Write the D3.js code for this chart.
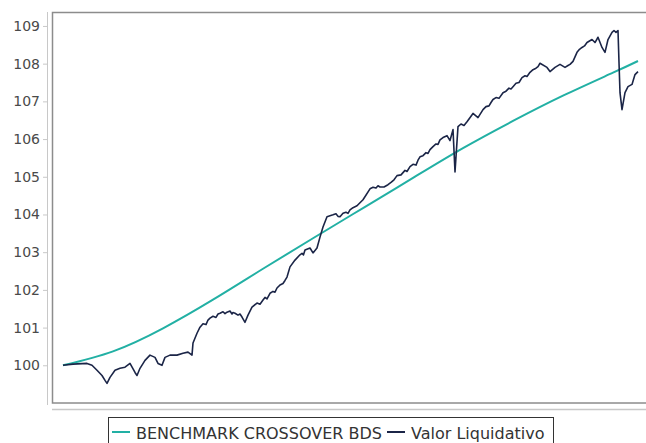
<!DOCTYPE html>
<html>
<head>
<meta charset="utf-8">
<script src="https://cdn.jsdelivr.net/npm/d3@7"></script>
<style>
  body { margin: 0; background: #fff; }
  svg { display: block; font-family: "DejaVu Sans", sans-serif; }
</style>
</head>
<body>
<div id="chart"></div>
<script>
var navDays = [0, 20, 48, 58, 68, 78, 84, 88, 94, 104, 114, 124, 134, 144, 148, 154, 164, 174, 184, 190,
  198, 204, 214, 228, 240, 250, 258, 260, 268, 274, 280, 286, 290, 294, 300, 306, 310, 314, 320, 324,
  328, 334, 338, 340, 344, 350, 354, 358, 364, 370, 378, 388, 394, 400, 404, 408, 414, 420, 424, 428,
  434, 440, 444, 448, 454, 464, 474, 478, 481, 484, 494, 500, 508, 514, 520, 528, 540, 546, 550, 554,
  560, 566, 570, 574, 580, 588, 600, 614, 620, 626, 630, 634, 642, 650, 656, 662, 668, 676, 684, 688,
  694, 700, 706, 710, 714, 720, 726, 730, 734, 740, 746, 750, 754, 760, 768, 774, 780, 784, 790, 796,
  802, 808, 820, 830, 840, 846, 852, 856, 860, 866, 872, 880, 886, 892, 896, 900, 906, 912, 918, 924,
  928, 934, 940, 946, 950, 954, 968, 974, 984, 994, 1004, 1010, 1014, 1020, 1028, 1033, 1038, 1043, 1048, 1058,
  1064, 1070, 1078, 1084, 1090, 1098, 1102, 1106, 1110, 1112, 1114, 1118, 1124, 1130, 1138, 1144, 1150];
var navValues = [100.00, 100.03, 100.05, 100.00, 99.87, 99.73, 99.60, 99.52, 99.68, 99.87, 99.92, 99.95, 100.05, 99.81, 99.73, 99.92, 100.13, 100.27, 100.21, 100.05,
  100.00, 100.21, 100.27, 100.27, 100.32, 100.35, 100.27, 100.59, 100.85, 101.01, 101.10, 101.08, 101.20, 101.25, 101.30, 101.27, 101.36, 101.38, 101.42, 101.37,
  101.41, 101.44, 101.36, 101.40, 101.38, 101.33, 101.36, 101.28, 101.14, 101.33, 101.54, 101.65, 101.62, 101.73, 101.80, 101.76, 101.91, 101.96, 101.94, 102.05,
  102.13, 102.17, 102.25, 102.34, 102.61, 102.79, 102.93, 102.97, 102.93, 103.06, 103.11, 102.98, 103.11, 103.40, 103.67, 103.94, 103.99, 104.02, 103.95, 103.94,
  104.03, 104.06, 104.03, 104.12, 104.18, 104.23, 104.39, 104.68, 104.72, 104.70, 104.76, 104.73, 104.73, 104.79, 104.85, 104.92, 105.03, 105.05, 105.17, 105.14,
  105.27, 105.33, 105.31, 105.44, 105.53, 105.56, 105.64, 105.62, 105.72, 105.80, 105.87, 105.86, 105.98, 106.04, 106.09, 105.96, 106.25, 105.13, 106.33, 106.40,
  106.36, 106.46, 106.68, 106.57, 106.78, 106.86, 106.88, 106.97, 107.05, 107.10, 107.08, 107.23, 107.27, 107.35, 107.33, 107.39, 107.48, 107.50, 107.63, 107.68,
  107.66, 107.77, 107.84, 107.88, 107.92, 108.01, 107.90, 107.79, 107.90, 107.98, 107.90, 107.95, 107.98, 108.06, 108.30, 108.38, 108.43, 108.47, 108.56, 108.64,
  108.56, 108.70, 108.43, 108.30, 108.64, 108.83, 108.88, 108.83, 108.88, 108.03, 107.23, 106.78, 107.23, 107.39, 107.45, 107.71, 107.79];

var benchDays = [0, 100, 200, 300, 400, 500, 600, 700, 800, 900, 1000, 1100, 1150];
var benchValues = [100.00, 100.37, 100.98, 101.74, 102.56, 103.37, 104.17, 104.97, 105.76, 106.48, 107.15, 107.76, 108.07];

var yTicks = [100, 101, 102, 103, 104, 105, 106, 107, 108, 109];
var seriesNames = ["BENCHMARK CROSSOVER BDS", "Valor Liquidativo"];
var seriesColors = ["#22b0a4", "#1b2547"];

var width = 646, height = 443;
var svg = d3.select("#chart").append("svg")
    .attr("width", width)
    .attr("height", height);

var x = d3.scaleLinear().domain([0, 1150]).range([63, 638]);
var y = d3.scaleLinear().domain([99, 109.37]).range([403, 12]);

// plot frame
svg.append("rect")
    .attr("x", 52.5).attr("y", 12.5)
    .attr("width", 620).attr("height", 390.5)
    .attr("fill", "none")
    .attr("stroke", "#8c8c8c")
    .attr("stroke-width", 1.5);

// y axis
var yAxis = svg.append("g")
    .attr("transform", "translate(47,0)")
    .call(d3.axisLeft(y).tickValues(yTicks).tickSize(4).tickPadding(3).tickFormat(d3.format("d")));
yAxis.select(".domain").attr("stroke", "#c8c8c8").attr("d", "M0.5,12V405");
yAxis.selectAll(".tick line").attr("stroke", "#c8c8c8");
yAxis.selectAll(".tick text")
    .attr("fill", "#4a4a4a")
    .style("font-size", "14px")
    .style("font-family", "DejaVu Sans, sans-serif");

// x axis line, no labels
svg.append("line")
    .attr("x1", 52).attr("x2", width)
    .attr("y1", 409.5).attr("y2", 409.5)
    .attr("stroke", "#c8c8c8")
    .attr("stroke-width", 1.5);

var bench = benchDays.map(function(d, i) { return [d, benchValues[i]]; });
var nav = navDays.map(function(d, i) { return [d, navValues[i]]; });

var benchLine = d3.line()
    .x(function(d) { return x(d[0]); })
    .y(function(d) { return y(d[1]); })
    .curve(d3.curveNatural);
var navLine = d3.line()
    .x(function(d) { return x(d[0]); })
    .y(function(d) { return y(d[1]); });

svg.append("path")
    .datum(bench)
    .attr("d", benchLine)
    .attr("fill", "none")
    .attr("stroke", seriesColors[0])
    .attr("stroke-width", 2);

svg.append("path")
    .datum(nav)
    .attr("d", navLine)
    .attr("fill", "none")
    .attr("stroke", seriesColors[1])
    .attr("stroke-width", 1.6)
    .attr("stroke-linejoin", "round");

// legend
var legend = svg.append("g");
legend.append("rect")
    .attr("x", 108.5).attr("y", 417.5)
    .attr("width", 445).attr("height", 40)
    .attr("fill", "#fff")
    .attr("stroke", "#333")
    .attr("stroke-width", 1);

var legendX = [112, 387];
seriesNames.forEach(function(name, i) {
    legend.append("line")
        .attr("x1", legendX[i]).attr("x2", legendX[i] + 18)
        .attr("y1", 432).attr("y2", 432)
        .attr("stroke", seriesColors[i])
        .attr("stroke-width", 2);
    legend.append("text")
        .attr("x", legendX[i] + 24)
        .attr("y", 439)
        .attr("fill", "#333")
        .style("font-size", "16px")
        .text(name);
});
</script>
</body>
</html>
